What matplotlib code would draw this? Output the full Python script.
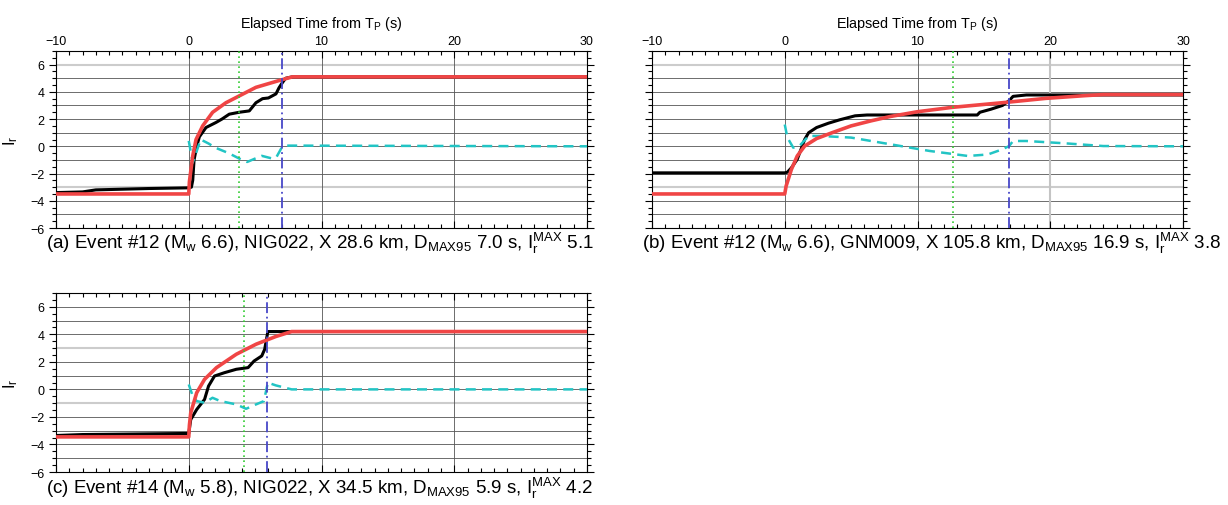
import matplotlib
matplotlib.use('Agg')
import matplotlib.pyplot as plt
import numpy as np
from matplotlib.ticker import MultipleLocator

plt.rcParams['font.family'] = ['Liberation Sans', 'DejaVu Sans']
plt.rcParams['mathtext.fontset'] = 'custom'
plt.rcParams['mathtext.rm'] = 'Liberation Sans'
plt.rcParams['mathtext.it'] = 'Liberation Sans:italic'

# (a) Event #12, NIG022
a_obs_t = [-10, -8, -7, -5, -3, 0, 0.2, 0.3, 0.4, 0.6, 0.8, 1.3, 2.05, 2.5, 3.05, 3.8, 4.56, 5.06, 5.56, 6.0, 6.57, 6.8, 7.07, 7.3, 7.8, 30]
a_obs_v = [-3.4, -3.35, -3.2, -3.15, -3.1, -3.05, -3.0, -2.5, -1.0, 0.0, 0.7, 1.38, 1.75, 2.0, 2.36, 2.5, 2.6, 3.2, 3.5, 3.55, 3.85, 4.3, 4.7, 5.0, 5.1, 5.1]
a_fit_t = [-10, 0, 0.05, 0.3, 0.55, 1.05, 1.8, 2.8, 3.8, 5.06, 6.0, 6.8, 7.8, 30]
a_fit_v = [-3.5, -3.5, -2.6, -0.7, 0.5, 1.5, 2.5, 3.2, 3.7, 4.33, 4.6, 4.83, 5.1, 5.1]
a_res_t = [0, 0.3, 0.9, 1.5, 2.0, 3.0, 3.8, 4.4, 5.0, 5.5, 6.3, 6.6, 7.0, 7.3, 8.0, 30]
a_res_v = [0.4, -1.2, 0.5, 0.2, -0.1, -0.5, -0.9, -1.15, -0.9, -0.7, -0.9, -0.8, -0.1, 0.05, 0.05, 0.0]

# (b) Event #12, GNM009
b_obs_t = [-10, 0, 0.2, 0.5, 0.94, 1.5, 1.8, 2.4, 3.3, 4.15, 5.3, 6.2, 14.5, 14.7, 15.55, 16.4, 16.9, 17.2, 18.2, 22.6, 30]
b_obs_v = [-1.95, -1.95, -1.9, -1.58, -0.96, 0.5, 1.0, 1.38, 1.7, 1.95, 2.24, 2.3, 2.3, 2.5, 2.73, 3.0, 3.35, 3.67, 3.77, 3.77, 3.77]
b_fit_t = [-10, 0, 0.1, 0.5, 0.94, 1.5, 2.4, 3.57, 5.0, 6.5, 7.95, 10, 12.6, 16.7, 19.65, 22.6, 24, 30]
b_fit_v = [-3.5, -3.5, -2.93, -1.7, -0.71, 0.02, 0.57, 1.0, 1.5, 1.87, 2.19, 2.54, 2.86, 3.23, 3.52, 3.72, 3.8, 3.8]
b_res_t = [0, 0.2, 0.64, 1.1, 1.8, 2.7, 5.0, 7.95, 10.9, 13.8, 15.3, 16.4, 16.9, 17.2, 18.2, 21.1, 24, 30]
b_res_v = [1.6, 0.64, -0.1, 0.02, 0.76, 0.76, 0.64, 0.15, -0.34, -0.71, -0.6, -0.22, 0.02, 0.39, 0.39, 0.22, 0.02, 0.0]

# (c) Event #14, NIG022
c_obs_t = [-10, -8, 0, 0.15, 0.6, 1.19, 1.49, 1.94, 2.68, 3.58, 4.47, 4.92, 5.5, 5.72, 5.96, 7.75, 30]
c_obs_v = [-3.35, -3.28, -3.2, -2.19, -1.46, -0.73, 0.24, 0.97, 1.21, 1.46, 1.58, 2.06, 2.43, 2.91, 4.2, 4.2, 4.2]
c_fit_t = [-10, 0, 0.05, 0.15, 0.6, 1.19, 2.09, 3.58, 5.07, 6.56, 7.75, 30]
c_fit_v = [-3.45, -3.45, -2.6, -1.7, -0.24, 0.73, 1.58, 2.55, 3.28, 3.84, 4.2, 4.2]
c_res_t = [0, 0.3, 0.6, 1.19, 1.79, 2.38, 3.58, 4.32, 5.07, 5.66, 5.96, 6.56, 7.75, 30]
c_res_v = [0.36, -0.49, -0.85, -0.97, -0.61, -0.85, -1.09, -1.41, -1.09, -0.85, 0.49, 0.29, 0.0, 0.0]

green_t = [3.75, 12.65, 4.17]
dmax95 = [7.0, 16.9, 5.9]
light_y = [[6, -3], [6, -3], [3, -1]]
light_x = [[], [20], []]

captions = [
    r'(a) Event #12 ($\mathregular{M_w}$ 6.6), NIG022, X 28.6 km, $\mathregular{D_{MAX95}}$ 7.0 s, $\mathregular{I_r^{MAX}}$ 5.1',
    r'(b) Event #12 ($\mathregular{M_w}$ 6.6), GNM009, X 105.8 km, $\mathregular{D_{MAX95}}$ 16.9 s, $\mathregular{I_r^{MAX}}$ 3.8',
    r'(c) Event #14 ($\mathregular{M_w}$ 5.8), NIG022, X 34.5 km, $\mathregular{D_{MAX95}}$ 5.9 s, $\mathregular{I_r^{MAX}}$ 4.2',
]

obs = [(a_obs_t, a_obs_v), (b_obs_t, b_obs_v), (c_obs_t, c_obs_v)]
fit = [(a_fit_t, a_fit_v), (b_fit_t, b_fit_v), (c_fit_t, c_fit_v)]
res = [(a_res_t, a_res_v), (b_res_t, b_res_v), (c_res_t, c_res_v)]

W, H = 1228, 506
fig = plt.figure(figsize=(W / 100, H / 100), dpi=100)

# axes boxes in pixels: left, top, right, bottom
boxes = [(56, 52, 587, 229), (652, 52, 1183, 229), (56, 294, 587, 473)]
cap_pos = [(46, 243), (642, 243), (46, 488)]

for i in range(3):
    l, t, r, b = boxes[i]
    ax = fig.add_axes([l / W, 1 - b / H, (r - l) / W, (b - t) / H])
    ax.set_xlim(-10, 30)
    ax.set_ylim(-6, 7)

    # grid: thin dark lines every unit, a few lighter reference lines
    for y in range(-5, 7):
        if y in light_y[i]:
            ax.axhline(y, color='#cccccc', lw=1.5, zorder=1)
        else:
            ax.axhline(y, color='#555555', lw=0.6, zorder=1)
    for x in [0, 10, 20]:
        if x in light_x[i]:
            ax.axvline(x, color='#c4c4c4', lw=1.5, zorder=1)
        else:
            ax.axvline(x, color='#555555', lw=0.6, zorder=1)

    ax.plot(*obs[i], color='black', lw=2.2, zorder=3)
    ax.plot(*res[i], color='#22c4c4', lw=1.8, ls=(0, (4, 2.5)), zorder=3)
    ax.plot(*fit[i], color='#f04545', lw=2.6, zorder=4)
    ax.axvline(green_t[i], color='#33cc33', lw=1.2, ls=(0, (1, 2)), zorder=5)
    ax.axvline(dmax95[i], color='#4848c8', lw=1.3, ls=(0, (6, 2, 1, 2)), zorder=5)

    ax.xaxis.set_major_locator(MultipleLocator(10))
    ax.xaxis.set_minor_locator(MultipleLocator(1))
    ax.yaxis.set_major_locator(MultipleLocator(2))
    ax.yaxis.set_minor_locator(MultipleLocator(0.5))
    ax.tick_params(axis='x', which='both', direction='in', top=True, bottom=True,
                   labeltop=(i < 2), labelbottom=False, labelsize=9, pad=3)
    ax.tick_params(axis='x', which='major', length=5, width=0.8)
    ax.tick_params(axis='x', which='minor', length=3, width=0.8)
    ax.tick_params(axis='y', which='both', direction='out', left=True, right=True,
                   labelleft=(i != 1), labelsize=9)
    ax.tick_params(axis='y', which='major', length=5, width=0.8)
    ax.tick_params(axis='y', which='minor', length=3, width=0.8)
    for s in ax.spines.values():
        s.set_linewidth(0.8)

    if i < 2:
        ax.xaxis.set_label_position('top')
        ax.set_xlabel(r'Elapsed Time from $\mathregular{T_P}$ (s)', fontsize=10.4, labelpad=6)
    if i != 1:
        ax.set_ylabel(r'$\mathregular{I_r}$', fontsize=12, labelpad=7)

    cx, cy = cap_pos[i]
    fig.text(cx / W, 1 - cy / H, captions[i], fontsize=13.5, ha='left', va='center')

fig.savefig('out.png', dpi=100)
